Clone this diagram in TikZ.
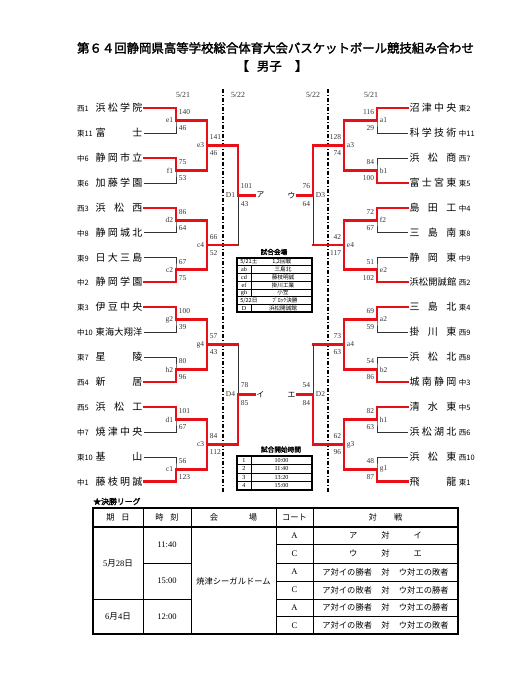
\documentclass[tikz,border=0pt]{standalone}
\usepackage{fontspec}
\setmainfont{Liberation Serif}
\newfontfamily\jp[AutoFakeBold=2]{Noto Sans CJK JP}
\newcommand\spr[1]{\hbox to 35pt{#1}}
\newcommand\pfx{\jp\fontsize{5.6pt}{6pt}\selectfont}
\newcommand\fv{\fontsize{6.9pt}{8pt}\selectfont}
\definecolor{rd}{RGB}{232,16,22}
\begin{document}
\begin{tikzpicture}[x=0.75pt,y=-0.75pt]
\tikzset{
 thinln/.style={draw=black!80, line width=0.55pt},
 redln/.style={draw=rd, line width=2pt, line join=miter, line cap=rect},
 team/.style={inner sep=1pt, font=\jp\fontsize{7.5pt}{8pt}\selectfont},
 sc/.style={inner sep=0.5pt, font=\fontsize{5.6pt}{6pt}\selectfont, text=black!80},
 dd/.style={draw=black, line width=0.8pt, dash pattern=on 3pt off 1.5pt on 0.8pt off 1.5pt},
 datel/.style={font=\fontsize{5.9pt}{6pt}\selectfont, text=black!80},
 kana/.style={font=\jp\fontsize{5.8pt}{6pt}\selectfont, inner sep=1pt},
 ttl/.style={font=\jp\bfseries\fontsize{5pt}{6pt}\selectfont, inner sep=0pt},
 vt/.style={font=\jp\fontsize{4.2pt}{5pt}\selectfont, inner sep=0pt},
 tt/.style={font=\fontsize{4.6pt}{5pt}\selectfont, inner sep=0pt},
 bt/.style={font=\jp\fontsize{6.2pt}{7pt}\selectfont, inner sep=0pt},
 bn/.style={font=\fontsize{6.4pt}{7pt}\selectfont, inner sep=0pt},
 tbo/.style={draw=black, line width=1pt},
 tbi/.style={draw=black, line width=0.5pt},
}
\fill[white] (0,0) rectangle (525,680);
\useasboundingbox (0,0) rectangle (525,680);

% title
\node[font=\jp\bfseries\fontsize{9.3pt}{10pt}\selectfont] (title) at (275.5,48) {第６４回静岡県高等学校総合体育大会バスケットボール競技組み合わせ};
\node[font=\jp\bfseries\fontsize{9.3pt}{10pt}\selectfont] (sub) at (272,66) {【\hspace{6pt}男子\hspace{10pt}】};

% dates
\node[datel] (dt1) at (183,95) {5/21};
\node[datel] (dt2) at (238,95) {5/22};
\node[datel] (dt3) at (313,95) {5/22};
\node[datel] (dt4) at (371,95) {5/21};

% dash-dot lines
\coordinate (ddLt) at (223,89); \coordinate (ddLb) at (223,492);
\coordinate (ddRt) at (328,89); \coordinate (ddRb) at (328,492);
\draw[dd] (ddLt) -- (ddLb);
\draw[dd] (ddRt) -- (ddRb);

% left teams
\foreach \n/\y/\p/\nm in {
 L1/108/西1/浜\hfil 松\hfil 学\hfil 院,
 L2/133/東11/富\hfil 士,
 L3/158/中6/静\hfil 岡\hfil 市\hfil 立,
 L4/183/東6/加\hfil 藤\hfil 学\hfil 園,
 L5/208/西3/浜\hfil 松\hfil 西,
 L6/232.5/中8/静\hfil 岡\hfil 城\hfil 北,
 L7/257.5/東9/日\hfil 大\hfil 三\hfil 島,
 L8/282/中2/静\hfil 岡\hfil 学\hfil 園,
 L9/307/東3/伊\hfil 豆\hfil 中\hfil 央,
 L10/332/中10/\fv 東\hfil 海\hfil 大\hfil 翔\hfil 洋,
 L11/357/東7/星\hfil 陵,
 L12/382/西4/新\hfil 居,
 L13/407/西5/浜\hfil 松\hfil 工,
 L14/432/中7/焼\hfil 津\hfil 中\hfil 央,
 L15/457/東10/基\hfil 山,
 L16/481.5/中1/藤\hfil 枝\hfil 明\hfil 誠}
 \node[team,anchor=east] (\n) at (144,\y) {\makebox[14pt][l]{\pfx \p}\spr{\nm}};

% right teams
\foreach \n/\y/\p/\nm in {
 R1/108/東2/沼\hfil 津\hfil 中\hfil 央,
 R2/133/中11/科\hfil 学\hfil 技\hfil 術,
 R3/158/西7/浜\hfil 松\hfil 商,
 R4/183/東5/富\hfil 士\hfil 宮\hfil 東,
 R5/208/中4/島\hfil 田\hfil 工,
 R6/232.5/東8/三\hfil 島\hfil 南,
 R7/257.5/中9/静\hfil 岡\hfil 東,
 R8/282/西2/\fv 浜\hfil 松\hfil 開\hfil 誠\hfil 館,
 R9/307/東4/三\hfil 島\hfil 北,
 R10/332/西9/掛\hfil 川\hfil 東,
 R11/357/西8/浜\hfil 松\hfil 北,
 R12/382/中3/城\hfil 南\hfil 静\hfil 岡,
 R13/407/中5/清\hfil 水\hfil 東,
 R14/432/西6/浜\hfil 松\hfil 湖\hfil 北,
 R15/457/西10/浜\hfil 松\hfil 東,
 R16/481.5/東1/飛\hfil 龍}
 \node[team,anchor=west] (\n) at (408,\y) {\spr{\nm}\hspace{2pt}{\pfx \p}};

% final labels
\node[kana,anchor=west] (kA) at (255,195.25) {ア};
\node[kana,anchor=west] (kI) at (255,394.5) {イ};
\node[kana,anchor=east] (kU) at (297,195.25) {ウ};
\node[kana,anchor=east] (kE) at (297,394.5) {エ};

% ---------- left side ----------
\foreach \a/\b/\ym/\w/\lab/\st/\sb in {
 L1/L2/120.5/1/e1/140/46, L3/L4/170.5/1/f1/75/53,
 L5/L6/220.25/1/d2/86/64, L7/L8/269.75/2/c2/67/75,
 L9/L10/319.5/1/g2/100/39, L11/L12/369.5/2/h2/80/96,
 L13/L14/419.5/1/d1/101/67, L15/L16/469.25/2/c1/56/123}{
 \draw[thinln] (\a.east) -| (176,\ym) |- (\b.east);
 \ifnum\w=1
  \draw[redln] (\a.east) -| (176,\ym) -- (207,\ym);
 \else
  \draw[redln] (\b.east) -| (176,\ym) -- (207,\ym);
 \fi
 \node[sc,anchor=west] (s\lab t) at (178,{\ym-8}) {\st};
 \node[sc,anchor=west] (s\lab b) at (178,{\ym+8}) {\sb};
 \node[sc,anchor=east] (m\lab) at (174,\ym) {\lab};
}
\foreach \yt/\yb/\ym/\lab/\st/\sb in {
 120.5/170.5/145.5/e3/141/46, 220.25/269.75/245/c4/66/52,
 319.5/369.5/344.5/g4/57/43, 419.5/469.25/444.4/c3/84/112}{
 \draw[redln] (207,\yt) -- (207,\yb);
 \draw[redln] (207,\ym) -- (238,\ym);
 \node[sc,anchor=west] (s\lab t) at (209,{\ym-8}) {\st};
 \node[sc,anchor=west] (s\lab b) at (209,{\ym+8}) {\sb};
 \node[sc,anchor=east] (m\lab) at (205,\ym) {\lab};
}
\draw[thinln] (238,145.5) -- (238,245);
\draw[redln] (238,145.5) -- (238,195.25) -- (kA.west);
\node[sc,anchor=west] (sD1t) at (240,186) {101};
\node[sc,anchor=west] (sD1b) at (240,204) {43};
\node[sc,anchor=east] (mD1) at (236,195.25) {D1};
\draw[thinln] (238,344.5) -- (238,444.4);
\draw[redln] (238,444.4) -- (238,394.5) -- (kI.west);
\node[sc,anchor=west] (sD4t) at (240,385.5) {78};
\node[sc,anchor=west] (sD4b) at (240,403.5) {85};
\node[sc,anchor=east] (mD4) at (236,394.5) {D4};

% ---------- right side ----------
\foreach \a/\b/\ym/\w/\lab/\st/\sb in {
 R1/R2/120.5/1/a1/116/29, R3/R4/170.5/2/b1/84/100,
 R5/R6/220.25/1/f2/72/67, R7/R8/269.75/2/e2/51/102,
 R9/R10/319.5/1/a2/69/59, R11/R12/369.5/2/b2/54/86,
 R13/R14/419.5/1/h1/82/63, R15/R16/469.25/2/g1/48/87}{
 \draw[thinln] (\a.west) -| (377,\ym) |- (\b.west);
 \ifnum\w=1
  \draw[redln] (\a.west) -| (377,\ym) -- (344,\ym);
 \else
  \draw[redln] (\b.west) -| (377,\ym) -- (344,\ym);
 \fi
 \node[sc,anchor=east] (s\lab t) at (375,{\ym-8}) {\st};
 \node[sc,anchor=east] (s\lab b) at (375,{\ym+8}) {\sb};
 \node[sc,anchor=west] (m\lab) at (379,\ym) {\lab};
}
\foreach \yt/\yb/\ym/\lab/\st/\sb in {
 120.5/170.5/145.5/a3/128/74, 220.25/269.75/245/e4/42/117,
 319.5/369.5/344.5/a4/73/63, 419.5/469.25/444.4/g3/62/96}{
 \draw[redln] (344,\yt) -- (344,\yb);
 \draw[redln] (344,\ym) -- (313,\ym);
 \node[sc,anchor=east] (s\lab t) at (342,{\ym-8}) {\st};
 \node[sc,anchor=east] (s\lab b) at (342,{\ym+8}) {\sb};
 \node[sc,anchor=west] (m\lab) at (346,\ym) {\lab};
}
\draw[thinln] (313,145.5) -- (313,245);
\draw[redln] (313,145.5) -- (313,195.25) -- (kU.east);
\node[sc,anchor=east] (sD3t) at (311,186) {76};
\node[sc,anchor=east] (sD3b) at (311,204) {64};
\node[sc,anchor=west] (mD3) at (315,195.25) {D3};
\draw[thinln] (313,344.5) -- (313,444.4);
\draw[redln] (313,444.4) -- (313,394.5) -- (kE.east);
\node[sc,anchor=east] (sD2t) at (311,385.5) {54};
\node[sc,anchor=east] (sD2b) at (311,403.5) {84};
\node[sc,anchor=west] (mD2) at (315,394.5) {D2};

% ---------- venue table ----------
\node[ttl] (vtitle) at (274,252) {試合会場};
\draw[tbo] (237,258) rectangle (312,312);
\foreach \y in {265.7,273.4,281.1,288.9,296.6,304.3} \draw[tbi] (237,\y) -- (312,\y);
\draw[tbi] (251,265.7) -- (251,296.6);
\draw[tbi] (251,304.3) -- (251,312);
\node[vt,anchor=west] (v1a) at (240,261.9) {5/21土};
\node[vt,anchor=west] (v1b) at (272,261.9) {1,2回戦};
\node[tt] (v2a) at (244,269.6) {ab}; \node[vt] (v2b) at (283,269.6) {三島北};
\node[tt] (v3a) at (244,277.3) {cd}; \node[vt] (v3b) at (283,277.3) {藤枝明誠};
\node[tt] (v4a) at (244,285) {ef}; \node[vt] (v4b) at (283,285) {掛川工業};
\node[tt] (v5a) at (244,292.7) {gh}; \node[vt] (v5b) at (283,292.7) {小笠};
\node[vt,anchor=west] (v6a) at (240,300.4) {5/22日};
\node[vt,anchor=west] (v6b) at (272,300.4) {ﾌﾞﾛｯｸ決勝};
\node[tt] (v7a) at (244,308.1) {D}; \node[vt] (v7b) at (283,308.1) {浜松開誠館};

% ---------- time table ----------
\node[ttl] (ttitle) at (281,449.5) {試合開始時間};
\draw[tbo] (237,456) rectangle (312,490);
\foreach \y in {464.5,473,481.5} \draw[tbi] (237,\y) -- (312,\y);
\draw[tbi] (251,456) -- (251,490);
\foreach \i/\y/\t in {1/460.25/10:00, 2/468.75/11:40, 3/477.25/13:20, 4/485.75/15:00}{
 \node[tt] (tn\i) at (244,\y) {\i};
 \node[tt] (tt\i) at (281.5,\y) {\t};
}

% ---------- final league table ----------
\node[font=\jp\bfseries\fontsize{5.9pt}{7pt}\selectfont, inner sep=0pt, anchor=west] (fl) at (93,501.5) {★決勝リーグ};
\draw[tbo] (93,508) rectangle (458,634);
\draw[tbo] (93,527) -- (458,527);
\foreach \x in {143,191,276,313} \draw[tbi] (\x,508) -- (\x,634);
\draw[tbi] (143,563) -- (191,563); \draw[tbi] (276,563) -- (458,563);
\draw[tbi] (93,599) -- (191,599); \draw[tbi] (276,599) -- (458,599);
\foreach \y in {544.5,581,616.5} \draw[tbi] (276,\y) -- (458,\y);
\node[bt] (h1) at (118,517.5) {期\hspace{5pt}日};
\node[bt] (h2) at (167,517.5) {時\hspace{5pt}刻};
\node[bt] (h3) at (233.5,517.5) {会\hspace{23pt}場};
\node[bt] (h4) at (294.5,517.5) {コート};
\node[bt] (h5) at (385.5,517.5) {対\hspace{13pt}戦};
\node[bn] (dA) at (118,563) {5{\jp 月}28{\jp 日}};
\node[bn] (dB) at (118,616.5) {6{\jp 月}4{\jp 日}};
\node[bn] (tA) at (167,545) {11:40};
\node[bn] (tB) at (167,581) {15:00};
\node[bn] (tC) at (167,616.5) {12:00};
\node[bt] (ven) at (233.5,581) {焼津シーガルドーム};
\foreach \i/\y/\c in {1/535.75/A, 2/553.75/C, 3/572/A, 4/590/C, 5/607.75/A, 6/625.25/C}
 \node[bn] (ct\i) at (294.5,\y) {\c};
\node[bt] (g1) at (385.5,535.75) {ア\hspace{18pt}対\hspace{18pt}イ};
\node[bt] (g2) at (385.5,553.75) {ウ\hspace{18pt}対\hspace{18pt}エ};
\node[bt] (g3) at (385.5,572) {ア対イの勝者\hspace{7pt}対\hspace{7pt}ウ対エの敗者};
\node[bt] (g4) at (385.5,590) {ア対イの敗者\hspace{7pt}対\hspace{7pt}ウ対エの勝者};
\node[bt] (g5) at (385.5,607.75) {ア対イの勝者\hspace{7pt}対\hspace{7pt}ウ対エの勝者};
\node[bt] (g6) at (385.5,625.25) {ア対イの敗者\hspace{7pt}対\hspace{7pt}ウ対エの敗者};
\end{tikzpicture}
\end{document}
